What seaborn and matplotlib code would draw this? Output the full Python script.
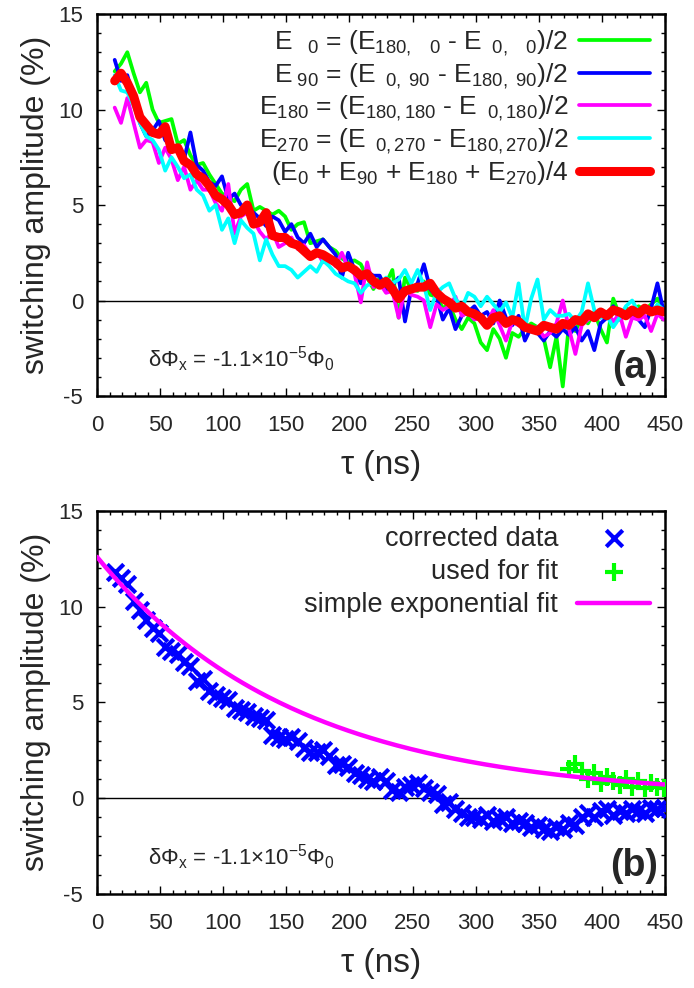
import numpy as np
import matplotlib
matplotlib.use("Agg")
import matplotlib.pyplot as plt
import seaborn as sns

# delay times (ns) of the measurement
tau = [14, 19, 24, 29, 34, 39, 44, 49, 54, 59, 64, 69, 74, 79, 84, 89, 94, 99,
       104, 109, 114, 119, 124, 129, 134, 139, 144, 149, 154, 159, 164, 169,
       174, 179, 184, 189, 194, 199, 204, 209, 214, 219, 224, 229, 234, 239,
       244, 249, 254, 259, 264, 269, 274, 279, 284, 289, 294, 299, 304, 309,
       314, 319, 324, 329, 334, 339, 344, 349, 354, 359, 364, 369, 374, 379,
       384, 389, 394, 399, 404, 409, 414, 419, 424, 429, 434, 439, 444, 449]

# switching amplitudes (%) for the four bias directions
e0 = [12.0, 12.4, 13.0, 11.9, 10.9, 11.4, 10.0, 9.3, 9.4, 9.5, 8.2, 8.4, 7.6, 7.1,
      7.2, 6.6, 6.1, 5.6, 5.4, 5.2, 5.8, 6.1, 4.7, 4.9, 4.7, 4.5, 4.7, 4.4, 3.7,
      4.0, 4.1, 3.0, 3.1, 3.2, 2.8, 2.6, 2.2, 2.0, 2.1, 1.9, 1.2, 0.6, 1.2, 0.9,
      1.6, -0.9, 1.2, 0.6, 0.5, 1.0, 0.3, 0.2, -0.4, -0.2, -1.0, -1.5, -0.9, -1.2,
      -2.2, -2.6, -1.5, -2.0, -3.0, -1.7, -1.9, -1.5, -1.2, -1.4, -2.0, -3.5, -1.9,
      -4.5, -1.2, -1.6, -0.9, -1.2, -0.6, -1.5, -2.2, 0.1, -0.8, -0.4, -0.6, -0.3,
      -0.5, -0.2, 0.1, -0.4]
e90 = [12.6, 11.5, 11.8, 10.6, 9.3, 8.6, 8.9, 9.4, 8.4, 8.1, 8.0, 7.4, 8.8, 7.1,
       6.8, 6.2, 6.0, 6.5, 5.3, 5.6, 5.0, 4.9, 4.6, 4.3, 3.9, 4.4, 4.2, 3.6, 4.0,
       3.3, 3.0, 3.5, 2.8, 3.2, 2.8, 2.4, 1.2, 2.5, 1.6, 0.9, 1.5, 1.3, 1.3, 0.5,
       0.8, 1.2, -1.1, 0.6, 0.9, 1.9, 0.6, 0.2, -1.0, -0.4, -1.5, -0.8, -0.6, -0.3,
       -0.8, -0.6, -1.2, 0.0, -0.9, -1.3, -0.8, -2.1, -1.4, -1.7, -2.1, -1.6, -1.9,
       -1.5, -1.8, -1.4, -2.1, -1.6, -2.6, -1.2, -0.9, -0.3, -1.0, -0.7, -0.8, -1.0,
       -1.4, -0.4, 0.9, -0.6]
e180 = [10.1, 9.3, 10.6, 9.3, 8.0, 8.4, 8.3, 7.2, 8.0, 7.4, 6.3, 7.0, 5.8, 6.3,
        5.8, 5.8, 5.1, 4.7, 6.1, 3.5, 4.4, 4.6, 4.2, 3.6, 3.2, 3.6, 2.8, 3.0, 3.3,
        2.7, 2.9, 2.4, 2.6, 2.0, 2.2, 1.8, 2.5, 1.7, 1.4, -0.1, 2.0, 0.7, 0.9, 0.4,
        0.5, -0.9, 0.6, 0.3, 0.2, 0.0, -1.4, -0.2, -0.5, -0.3, 0.2, -0.8, -0.6, -1.0,
        -0.9, -1.2, -0.5, -1.3, -2.1, -1.1, -1.3, -1.2, -1.5, -1.4, -1.9, -1.7, -1.2,
        0.0, -1.5, -2.8, -1.3, -1.0, -0.8, -0.9, -0.6, -1.1, -0.7, -1.9, -0.9, -1.0,
        -0.8, -1.6, -0.7, -1.0]
e270 = [11.8, 11.0, 10.9, 10.2, 9.3, 8.6, 8.4, 7.9, 6.8, 7.5, 7.0, 6.4, 6.6, 5.8,
        5.5, 4.7, 5.0, 3.7, 4.3, 3.0, 4.2, 3.8, 3.5, 2.1, 3.2, 2.4, 1.8, 1.8, 1.6,
        1.2, 1.5, 1.8, 1.5, 2.1, 1.8, 1.4, 1.2, 1.0, 0.9, 0.4, 0.8, 0.9, 0.7, 1.2,
        0.9, 1.1, 1.6, 0.9, 1.6, 0.8, -0.5, 0.4, 0.7, 0.9, 0.1, -0.4, 0.4, 0.2,
        -0.3, 0.2, -0.2, -0.6, -0.1, -0.9, 0.9, -1.5, 0.1, 1.1, -1.0, -0.5, -0.8,
        -0.8, -0.7, -1.1, -0.6, 0.9, -0.5, -0.9, -0.8, -1.4, -0.9, -0.3, 0.0, -0.6,
        -0.4, -0.7, -0.2, -0.5]
e_avg = [11.5, 11.9, 11.4, 10.7, 9.6, 9.2, 8.8, 8.7, 9.1, 7.9, 8.0, 7.3, 7.1, 6.6,
         6.4, 6.0, 5.5, 5.3, 5.0, 4.5, 4.6, 5.0, 4.0, 4.1, 4.6, 3.4, 3.3, 3.3, 3.0,
         2.9, 2.6, 2.3, 2.5, 2.4, 2.2, 2.0, 1.7, 1.8, 1.6, 1.3, 1.4, 1.0, 0.8, 1.0,
         0.6, 0.1, 0.5, 0.6, 0.7, 0.7, 0.9, 0.4, 0.1, -0.1, -0.4, -0.3, -0.6, -0.7,
         -0.9, -1.3, -0.9, -0.8, -1.2, -1.0, -1.1, -1.4, -1.5, -1.6, -1.3, -1.4, -1.5,
         -1.2, -1.3, -1.0, -1.1, -0.7, -0.9, -0.6, -0.8, -0.5, -0.6, -0.8, -0.5, -0.7,
         -0.4, -0.6, -0.5, -0.6]

# panel (b)
corrected = [11.8, 11.5, 11.2, 10.3, 9.8, 9.3, 8.9, 8.6, 7.9, 7.7, 7.5, 7.1, 6.9,
             6.1, 6.2, 5.6, 5.4, 5.2, 5.1, 4.7, 4.6, 4.5, 4.3, 4.2, 4.1, 3.3, 3.2,
             3.1, 3.2, 3.0, 2.6, 2.4, 2.4, 2.5, 2.2, 1.7, 1.8, 1.6, 1.3, 1.2, 1.0,
             0.9, 1.1, 0.9, 0.4, 0.3, 0.6, 0.7, 0.8, 0.5, 0.3, 0.2, -0.3, -0.2, -0.6,
             -0.8, -1.0, -1.0, -1.1, -0.9, -1.2, -1.1, -1.0, -1.3, -1.2, -1.3, -1.5,
             -1.4, -1.6, -1.7, -1.5, -1.6, -1.3, -1.4, -1.0, -0.8, -1.0, -0.7, -0.6,
             -0.9, -0.7, -0.8, -0.6, -0.7, -0.8, -0.5, -0.6, -0.5]
tau_fit = [374, 379, 384, 389, 394, 399, 404, 409, 414, 419, 424, 429, 434, 439,
           444, 449]
used_fit = [1.5, 1.8, 1.4, 1.0, 1.3, 0.8, 1.1, 0.9, 0.7, 1.0, 0.6, 0.9, 0.5, 0.8,
            0.6, 0.5]
fit_amp = 12.6   # %
fit_decay = 156  # ns

sns.set_theme(style="ticks")
plt.rcParams["font.family"] = ["Liberation Sans", "DejaVu Sans"]
plt.rcParams["axes.unicode_minus"] = False
plt.rcParams["mathtext.fontset"] = "custom"
plt.rcParams["mathtext.rm"] = "Liberation Sans"
plt.rcParams["mathtext.it"] = "Liberation Sans:italic"
plt.rcParams["mathtext.bf"] = "Liberation Sans:bold"

fig = plt.figure(figsize=(6.94, 9.88), dpi=100)
ax1 = fig.add_axes([0.1398, 0.5992, 0.8184, 0.3866])
ax2 = fig.add_axes([0.1398, 0.0955, 0.8184, 0.3873])

labels_a = [
    r"E$_{\mathrm{\ \ \ 0}}$ = (E$_{\mathrm{180,\ \ \ 0}}$ - E$_{\mathrm{\ \ 0,\ \ \ 0}}$)/2",
    r"E$_{\mathrm{\ 90}}$ = (E$_{\mathrm{\ \ 0,\ 90}}$ - E$_{\mathrm{180,\ 90}}$)/2",
    r"E$_{\mathrm{180}}$ = (E$_{\mathrm{180,180}}$ - E$_{\mathrm{\ \ 0,180}}$)/2",
    r"E$_{\mathrm{270}}$ = (E$_{\mathrm{\ \ 0,270}}$ - E$_{\mathrm{180,270}}$)/2",
    r"(E$_{\mathrm{0}}$ + E$_{\mathrm{90}}$ + E$_{\mathrm{180}}$ + E$_{\mathrm{270}}$)/4",
]
series = [e0, e90, e180, e270, e_avg]
colors = ["#00ff00", "#0000ff", "#ff00ff", "#00ffff", "#ff0000"]
widths = [2.7, 2.7, 2.7, 2.7, 6.5]

ax1.axhline(0, color="black", lw=1, zorder=1)
for y, c, w, lab in zip(series, colors, widths, labels_a):
    sns.lineplot(x=tau, y=y, color=c, lw=w, label=lab, ax=ax1, zorder=2)

ax2.axhline(0, color="black", lw=1, zorder=1)
sns.scatterplot(x=tau, y=corrected, marker="x", s=140, color="#0000ff",
                linewidth=3, label="corrected data", ax=ax2, zorder=3)
sns.scatterplot(x=tau_fit, y=used_fit, marker="+", s=160, color="#00ff00",
                linewidth=3, label="used for fit", ax=ax2, zorder=3)
t_line = np.linspace(0, 450, 200)
sns.lineplot(x=t_line, y=fit_amp * np.exp(-t_line / fit_decay), color="#ff00ff",
             lw=3.2, label="simple exponential fit", ax=ax2, zorder=4)

for ax, tag in [(ax1, "(a)"), (ax2, "(b)")]:
    ax.set_xlim(0, 450)
    ax.set_ylim(-5, 15)
    ax.set_xticks(range(0, 451, 50))
    ax.set_yticks(range(-5, 16, 5))
    ax.set_xticks(range(0, 451, 10), minor=True)
    ax.set_yticks(range(-5, 16, 1), minor=True)
    ax.tick_params(which="both", direction="in", top=True, right=True,
                   labelsize=16, color="black", width=1)
    ax.tick_params(which="major", length=6, pad=10)
    ax.tick_params(axis="x", which="major", pad=14)
    ax.tick_params(which="minor", length=3)
    for sp in ax.spines.values():
        sp.set_linewidth(1.8)
        sp.set_color("black")
    ax.set_xlabel("τ (ns)", fontsize=24, labelpad=10)
    ax.set_ylabel("switching amplitude (%)", fontsize=23, labelpad=5)
    ax.text(0.09, 0.075, r"δΦ$_{\mathrm{x}}$ = -1.1×10$^{\mathrm{-5}}$Φ$_{\mathrm{0}}$",
            transform=ax.transAxes, fontsize=16, ha="left", va="baseline")
    ax.text(0.988, 0.025, tag, transform=ax.transAxes, fontsize=27,
            fontweight="bold", ha="right", va="bottom")

ax1.legend(loc="upper right", bbox_to_anchor=(0.974, 0.962), frameon=False,
           markerfirst=False, fontsize=19, handlelength=2.7,
           handletextpad=0.4, labelspacing=0.12, borderpad=0, borderaxespad=0)
ax2.legend(loc="upper right", bbox_to_anchor=(0.974, 0.962), frameon=False,
           markerfirst=False, fontsize=19.5, handlelength=2.7,
           handletextpad=0.7, labelspacing=0.27, borderpad=0, borderaxespad=0)

fig.savefig("out.png", dpi=100)
